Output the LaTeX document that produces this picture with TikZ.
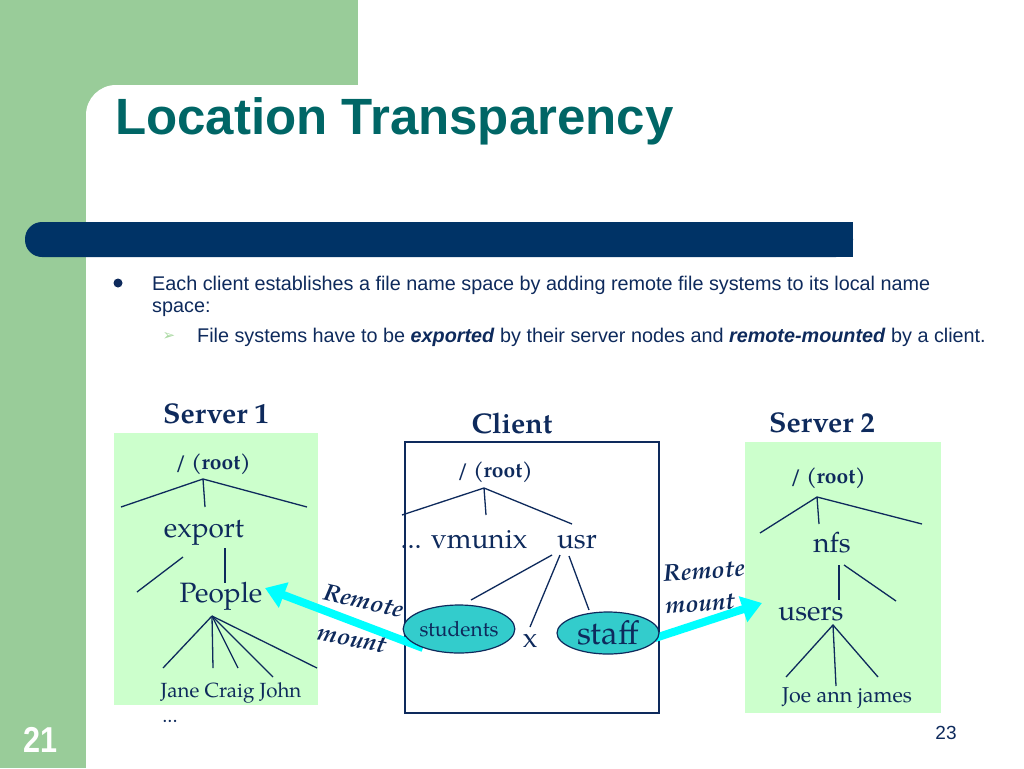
\documentclass[tikz,border=0pt]{standalone}
\usepackage{fontspec}
\setmainfont{Liberation Sans}
\newfontfamily\pal{texgyrepagella}[Extension=.otf, UprightFont=*-regular, BoldFont=*-bold, ItalicFont=*-italic, BoldItalicFont=*-bolditalic]
\newfontfamily\dejavu{DejaVu Sans}
\usetikzlibrary{shapes.geometric, arrows.meta}
\definecolor{sage}{HTML}{99CC99}
\definecolor{titleteal}{HTML}{006666}
\definecolor{navybar}{HTML}{003366}
\definecolor{ink}{HTML}{0E2A5C}
\definecolor{mint}{HTML}{CCFFCC}
\definecolor{tealfill}{HTML}{33CCCC}
\definecolor{aqua}{HTML}{00FFFF}
\definecolor{arrowgreen}{HTML}{A8D8A0}
\tikzset{
  big/.style={font=\pal\fontsize{28}{28}\selectfont, text=ink, inner sep=0, anchor=base},
  srvlbl/.style={font=\pal\bfseries\fontsize{28.5}{28.5}\selectfont, text=ink, inner sep=0, anchor=base},
  rootlbl/.style={font=\pal\bfseries\fontsize{21}{21}\selectfont, text=ink, inner sep=0, anchor=base},
  leaflbl/.style={font=\pal\fontsize{20.5}{20.5}\selectfont, text=ink, inner sep=0, anchor=base},
  tree/.style={draw=ink, line width=1.3pt},
  greenbox/.style={fill=mint, draw=none},
  dirnode/.style={ellipse, draw=ink, line width=1.2pt, fill=tealfill, inner sep=0},
  remote/.style={draw=aqua, line width=8pt, -{Triangle[length=20pt, width=26pt]}},
  rml/.style={font=\pal\bfseries\itshape\fontsize{24}{24}\selectfont, text=ink, inner sep=0},
  bodytext/.style={font=\fontsize{19.8}{19.8}\selectfont, text=ink, inner sep=0, anchor=base west}
}
\begin{document}
\begin{tikzpicture}[x=1pt, y=-1pt]
\useasboundingbox (0,0) rectangle (1024,768);
% background
\fill[white] (0,0) rectangle (1024,768);
\fill[sage] (0,0) rectangle (358,130);
\fill[sage] (0,0) rectangle (86,768);
\fill[white, rounded corners=30pt] (86,85) rectangle (1100,850);
% bar
\fill[navybar, rounded corners=17pt] (25,222) rectangle (853,257);
\fill[navybar] (800,222) rectangle (853,257);
% title
\node[font=\bfseries\fontsize{51}{51}\selectfont, text=titleteal, inner sep=0, anchor=base west] (title) at (115,134) {Location Transparency};
% bullets
\fill[ink] (118,283) circle (4.5);
\node[bodytext] (b1) at (152,290) {Each client establishes a file name space by adding remote file systems to its local name};
\node[bodytext] (b1b) at (152,312) {space:};
\node[font=\dejavu\fontsize{15}{15}\selectfont, text=arrowgreen, inner sep=0] (sb) at (169,336) {➢};
\node[bodytext] (b2) at (197,342) {File systems have to be \textbf{\textit{exported}} by their server nodes and \textbf{\textit{remote-mounted}} by a client.};
% boxes
\fill[greenbox] (114,433) rectangle (318,705);
\fill[greenbox] (745,442) rectangle (941,713);
\draw[ink, line width=1.2pt, fill=white] (405,442) rectangle (659,713);
% labels over boxes
\node[srvlbl] (s1) at (216,423) {Server 1};
\node[srvlbl] (cl) at (512,433) {Client};
\node[srvlbl] (s2) at (822,432) {Server 2};
% Server 1 tree
\node[rootlbl] (r1) at (213,469) {/ (root)};
\node[big] (export) at (204,537) {export};
\node[big] (people) at (221,602) {People};
\node[leaflbl] (jcj) at (231,697) {Jane Craig John};
\node[leaflbl] (dots1) at (170,722) {...};
\coordinate (r1a) at (203,479);
\coordinate (r1l) at (121,507); \coordinate (r1m) at (205,507); \coordinate (r1r) at (307,507);
\draw[tree] (r1l) -- (r1a) -- (r1r); \draw[tree] (r1a) -- (r1m);
\coordinate (ex1) at (225,548); \coordinate (ex2) at (225,583);
\coordinate (ex3) at (183,557); \coordinate (ex4) at (137,592);
\draw[tree] (ex1) -- (ex2); \draw[tree] (ex3) -- (ex4);
\coordinate (pa) at (212,616);
\coordinate (pl1) at (163,668);
\coordinate (pl2) at (213,668);
\coordinate (pl3) at (238,668);
\coordinate (pl4) at (273,677);
\coordinate (pl5) at (317,668);
\draw[tree] (pa) -- (pl1); \draw[tree] (pa) -- (pl2); \draw[tree] (pa) -- (pl3);
\draw[tree] (pa) -- (pl4); \draw[tree] (pa) -- (pl5);
% Client tree
\node[rootlbl] (r2) at (495,477) {/ (root)};
\node[big] (vm) at (464,548) {... vmunix};
\node[big] (usr) at (577,548) {usr};
\coordinate (r2a) at (484,488);
\coordinate (r2l) at (402,515); \coordinate (r2m) at (486,515); \coordinate (r2r) at (572,524);
\draw[tree] (r2l) -- (r2a) -- (r2r); \draw[tree] (r2a) -- (r2m);
\coordinate (u1a) at (552,555); \coordinate (u1b) at (471,600);
\coordinate (u2a) at (560,555); \coordinate (u2b) at (530,627);
\coordinate (u3a) at (569,556); \coordinate (u3b) at (589,610);
\draw[tree] (u1a) -- (u1b); \draw[tree] (u2a) -- (u2b); \draw[tree] (u3a) -- (u3b);
% Server 2 tree
\node[rootlbl] (r3) at (828,483) {/ (root)};
\node[big] (nfs) at (832,552) {nfs};
\node[big] (users) at (811,620) {users};
\node[leaflbl, font=\pal\fontsize{21.5}{21.5}\selectfont] (jaj) at (847,702) {Joe ann james};
\coordinate (r3a) at (817,497);
\coordinate (r3l) at (760,533); \coordinate (r3m) at (819,524); \coordinate (r3r) at (922,524);
\draw[tree] (r3l) -- (r3a) -- (r3r); \draw[tree] (r3a) -- (r3m);
\coordinate (n1) at (839,565); \coordinate (n2) at (839,600);
\coordinate (n3) at (844,565); \coordinate (n4) at (896,601);
\draw[tree] (n1) -- (n2); \draw[tree] (n3) -- (n4);
\coordinate (ua) at (833,625);
\coordinate (ul) at (786,677); \coordinate (um) at (836,686); \coordinate (ur) at (878,677);
\draw[tree] (ul) -- (ua) -- (ur); \draw[tree] (ua) -- (um);
% remote mount arrows
\coordinate (lstart) at (423,648);
\coordinate (ltip) at (265,588);
\coordinate (rstart) at (655,638);
\coordinate (rtip) at (762,603);
\draw[remote] (lstart) -- (ltip);
\draw[remote] (rstart) -- (rtip);
% ellipses
\node[dirnode, minimum width=108pt, minimum height=48pt, font=\pal\fontsize{21}{21}\selectfont, text=ink] (students) at (459,629) {students};
\node[dirnode, minimum width=102pt, minimum height=42pt, font=\pal\fontsize{33}{33}\selectfont, text=ink] (staff) at (608,633) {staff};
\node[big] (x) at (530,647) {x};
% remote labels
\node[rml, rotate=-13] (rm1) at (364,601) {Remote};
\node[rml, rotate=-11] (rm2) at (352,639) {mount};
\node[rml, rotate=4] (rm3) at (704,571) {Remote};
\node[rml, rotate=4] (rm4) at (700,604) {mount};
% page numbers
\node[font=\bfseries\fontsize{36}{36}\selectfont, text=white, inner sep=0] (pg1) at (41,740) {\scalebox{0.85}[1]{21}};
\node[font=\fontsize{19}{19}\selectfont, text=ink, inner sep=0] (pg2) at (946,733) {23};
\end{tikzpicture}
\end{document}
